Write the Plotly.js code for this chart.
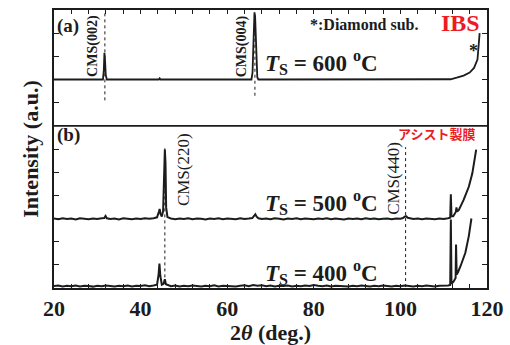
<!DOCTYPE html>
<html>
<head>
<meta charset="utf-8">
<script src="https://cdn.plot.ly/plotly-3.0.1.min.js"></script>
<style>html,body{margin:0;padding:0;background:#fff;}#chart{width:510px;height:345px;}</style>
</head>
<body>
<div id="chart"></div>
<script>
// 2theta (deg) vs relative intensity (a.u.)
const spec600 = [[20,0],[31.3,0],[31.5,0.4],[31.65,1.15],[31.8,0.8],[31.95,0.2],[32.2,0],[44.2,0],[44.4,0.05],[44.6,0],[65.6,0],[65.85,0.3],[66.0,1.2],[66.15,2.5],[66.3,2.9],[66.45,2.7],[66.6,1.8],[66.75,0.6],[66.95,0.1],[67.2,0],[110,0],[111.6,0.01],[113,0.08],[114.6,0.17],[116,0.3],[117,0.5],[117.8,0.86],[118.1,1.43],[118.3,2.0]];

const spec500 = [[20,0.02],[21,-0.01],[22,0.03],[23,0.00],[24,0.02],[25,-0.02],[26,0.03],[27,0.01],[28,-0.01],[29,0.02],[30,0.00],[31,0.03],[31.6,0.04],[31.9,0.13],[32.2,0.03],[33,0.00],[34,0.02],[35,-0.02],[36,0.03],[37,0.01],[38,-0.01],[39,0.02],[40,0.00],[41,0.03],[42,0.01],[43,0.03],[43.8,0.07],[44.2,0.3],[44.4,0.43],[44.6,0.22],[44.9,0.1],[45.2,0.35],[45.45,2.6],[45.6,3.0],[45.75,2.4],[45.9,0.5],[46.2,0.08],[47,0.02],[48,-0.01],[49,0.02],[50,0.00],[51,0.03],[52,-0.01],[53,0.02],[54,0.01],[55,-0.02],[56,0.02],[57,0.00],[58,0.03],[59,-0.01],[60,0.02],[61,0.01],[62,-0.01],[63,0.03],[64,0.00],[65,0.02],[65.8,0.04],[66.2,0.13],[66.5,0.2],[66.8,0.1],[67.2,0.03],[68,0.00],[69,0.02],[70,-0.01],[71,0.03],[72,0.01],[73,-0.02],[74,0.02],[75,0.00],[76,0.03],[77,-0.01],[78,0.02],[79,0.01],[80,-0.01],[81,0.02],[82,0.00],[83,0.03],[84,-0.01],[85,0.02],[86,0.01],[87,-0.02],[88,0.02],[89,0.00],[90,0.02],[91,-0.01],[92,0.03],[93,0.00],[94,0.02],[95,-0.01],[96,0.01],[97,0.02],[98,-0.01],[99,0.02],[100,0.01],[100.6,0.04],[101.0,0.1],[101.3,0.12],[101.7,0.05],[102.5,0.02],[103,0.00],[104,0.02],[105,-0.01],[106,0.02],[107,0.01],[108,-0.01],[109,0.02],[110,0.00],[111,0.03],[111.5,0.05],[111.65,1.07],[111.8,0.12],[112.2,0.12],[112.8,0.3],[112.95,0.5],[113.1,0.32],[113.5,0.39],[114.6,0.82],[115.8,1.39],[116.6,1.96],[117.1,2.53],[117.5,2.99]];

const spec400 = [[20,0.01],[21,0.03],[22,-0.01],[23,0.02],[24,0.00],[25,0.03],[26,-0.01],[27,0.02],[28,0.01],[29,-0.02],[30,0.02],[31,0.00],[32,0.03],[33,0.01],[34,-0.01],[35,0.02],[36,0.00],[37,0.03],[38,-0.01],[39,0.02],[40,0.01],[41,0.04],[42,0.00],[43,0.03],[43.8,0.06],[44.15,0.5],[44.35,0.97],[44.55,0.45],[44.9,0.06],[45.3,0.1],[45.6,0.3],[45.85,0.08],[46.5,0.02],[47,0.00],[48,0.03],[49,-0.01],[50,0.02],[51,0.00],[52,0.03],[53,0.01],[54,-0.01],[55,0.02],[56,0.00],[57,0.04],[58,-0.01],[59,0.02],[60,0.01],[61,0.03],[62,-0.01],[63,0.02],[64,0.04],[65,0.00],[66,0.05],[67,0.02],[68,0.04],[69,0.00],[70,0.03],[71,-0.01],[72,0.02],[73,0.01],[74,0.03],[75,-0.01],[76,0.02],[77,0.00],[78,0.03],[79,0.01],[80,0.05],[81,0.02],[82,0.00],[83,0.03],[84,-0.01],[85,0.02],[86,0.01],[87,0.03],[88,-0.01],[89,0.02],[90,0.00],[91,0.03],[92,0.01],[93,-0.01],[94,0.02],[95,0.00],[96,0.03],[97,0.01],[98,-0.01],[99,0.02],[100,0.00],[101,0.03],[102,0.01],[103,-0.01],[104,0.02],[105,0.00],[106,0.03],[107,0.01],[108,-0.01],[109,0.02],[110,0.01],[111,0.03],[111.5,0.05],[111.65,2.88],[111.8,0.1],[112.3,0.2],[112.75,0.35],[112.85,1.8],[113.0,0.5],[113.3,0.6],[113.9,0.87],[115.0,1.44],[115.8,2.16],[116.4,2.92]];

// vertical stacking offset of each pattern
const offsets = {s400: 0.08, s500: 2.98, s600: 9.0};

// CMS reflection markers: position (deg) and vertical extent
const markerPos = [31.75, 66.4, 45.6, 101.2];
const markerLow = [8.1, 8.3, 0.2, 0.04];
const markerHigh = [11.9, 11.85, 6.15, 6.08];

const xTickVals = [20,24,28,32,36,40,44,48,52,56,60,64,68,72,76,80,84,88,92,96,100,104,108,112,116,120];
const xTickText = ['20','','','','','40','','','','','60','','','','','80','','','','','100','','','','','120'];
const yTickVals = [0,1,2,3,4,5,6,7,8,9,10,11,12];

const FONT = 'Liberation Serif';
const INK = '#1c1c1c';
const RED = '#ec1c24';

function trace(spec, off, w) {
  return {x: spec.map(p => p[0]), y: spec.map(p => p[1] + off), type: 'scatter', mode: 'lines',
          line: {color: INK, width: w}, hoverinfo: 'skip', showlegend: false, cliponaxis: true};
}
const data = [
  trace(spec600, offsets.s600, 1.8),
  trace(spec500, offsets.s500, 2.0),
  trace(spec400, offsets.s400, 2.0)
];
markerPos.forEach((p, i) => {
  data.push({x: [p, p], y: [markerLow[i], markerHigh[i]], type: 'scatter', mode: 'lines',
             line: {color: INK, width: 1, dash: 'dot'}, hoverinfo: 'skip', showlegend: false});
});

const ann = (o) => Object.assign({xref: 'x', yref: 'y', showarrow: false, font: {family: FONT, size: 16, color: INK}}, o);
const annotations = [
  ann({x: 20.2, y: 11.3, xanchor: 'left', yanchor: 'middle', text: '<b>(a)</b>', font: {family: FONT, size: 19, color: INK}}),
  ann({x: 20.2, y: 6.6, xanchor: 'left', yanchor: 'middle', text: '<b>(b)</b>', font: {family: FONT, size: 19, color: INK}}),
  ann({x: 29.0, y: 10.45, textangle: -90, text: '<b>CMS(002)</b>', font: {family: FONT, size: 14, color: INK}}),
  ann({x: 63.5, y: 10.45, textangle: -90, text: '<b>CMS(004)</b>', font: {family: FONT, size: 14, color: INK}}),
  ann({x: 49.8, y: 5.09, textangle: -90, text: 'CMS(220)', font: {family: FONT, size: 17, color: INK}}),
  ann({x: 98.5, y: 4.75, textangle: -90, text: 'CMS(440)', font: {family: FONT, size: 17, color: INK}}),
  ann({x: 91.6, y: 11.39, text: '<b>*:Diamond sub.</b>', font: {family: FONT, size: 16, color: INK}}),
  ann({x: 113.8, y: 11.45, text: '<b>IBS</b>', font: {family: FONT, size: 24, color: RED}}),
  ann({x: 116.8, y: 10.25, text: '<b>*</b>', font: {family: FONT, size: 18, color: INK}}),
  ann({x: 108.3, y: 6.69, text: '<b>アシスト製膜</b>', font: {family: 'Noto Sans CJK JP', size: 13, color: RED}}),
  ann({x: 68.2, y: 9.72, xanchor: 'left', yanchor: 'middle', text: '<b><i>T</i><sub>S</sub> = 600 <sup>o</sup>C</b>', font: {family: FONT, size: 23, color: INK}}),
  ann({x: 68.2, y: 3.70, xanchor: 'left', yanchor: 'middle', text: '<b><i>T</i><sub>S</sub> = 500 <sup>o</sup>C</b>', font: {family: FONT, size: 23, color: INK}}),
  ann({x: 68.2, y: 0.66, xanchor: 'left', yanchor: 'middle', text: '<b><i>T</i><sub>S</sub> = 400 <sup>o</sup>C</b>', font: {family: FONT, size: 23, color: INK}})
];

const layout = {
  width: 510, height: 345,
  margin: {l: 54, r: 23, t: 10, b: 57},
  paper_bgcolor: '#fff', plot_bgcolor: '#fff',
  showlegend: false,
  xaxis: {range: [20, 120], tickvals: xTickVals, ticktext: xTickText.map(t => t ? '<b>' + t + '</b>' : ''), ticks: 'inside', ticklen: 4, tickwidth: 1, tickcolor: INK,
          mirror: 'ticks', showline: true, linewidth: 2, linecolor: INK, showgrid: false, zeroline: false,
          tickfont: {family: FONT, size: 22, color: INK},
          title: {text: '<b>2<i>θ</i> (deg.)</b>', font: {family: FONT, size: 22, color: INK}, standoff: 0}},
  yaxis: {range: [0, 12], tickvals: yTickVals, showticklabels: false, ticks: 'inside', ticklen: 5, tickwidth: 1, tickcolor: INK,
          mirror: 'ticks', showline: true, linewidth: 2, linecolor: INK, showgrid: false, zeroline: false,
          title: {text: '<b>Intensity (a.u.)</b>', font: {family: FONT, size: 22, color: INK}, standoff: 7}},
  shapes: [{type: 'line', xref: 'paper', yref: 'y', x0: 0, x1: 1, y0: 7, y1: 7, line: {color: INK, width: 1.6}}],
  annotations: annotations
};

Plotly.newPlot('chart', data, layout, {staticPlot: true, displayModeBar: false});
</script>
</body>
</html>
